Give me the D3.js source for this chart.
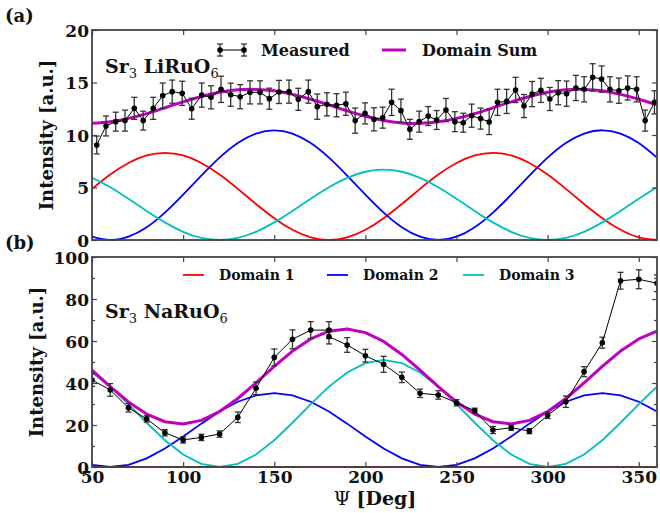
<!DOCTYPE html>
<html>
<head>
<meta charset="utf-8">
<script src="https://cdn.jsdelivr.net/npm/d3@7"></script>
<style>
  body { margin: 0; background: #fff; }
  svg { display: block; }
  text { font-family: "DejaVu Serif", serif; }
</style>
</head>
<body>
<svg id="chart" width="660" height="513"></svg>
<script>
// ---- data ----
// model curves, sampled every 10 deg from 50 to 360
const psiModel = [50, 60, 70, 80, 90, 100, 110, 120, 130, 140, 150, 160, 170, 180, 190, 200,
  210, 220, 230, 240, 250, 260, 270, 280, 290, 300, 310, 320, 330, 340, 350, 360];

// (a) Sr3LiRuO6
const psiA = [52.6, 57.7, 63.0, 68.1, 73.2, 78.1, 83.6, 88.8, 94.0, 99.5, 104.7, 110.2, 115.3, 120.8,
  126.1, 131.3, 136.7, 142.2, 147.3, 152.6, 158.1, 163.2, 168.7, 173.6, 178.9, 184.2, 189.3, 194.4,
  199.8, 204.7, 209.5, 214.4, 219.5, 224.4, 229.5, 234.5, 239.1, 244.2, 249.1, 253.7, 258.3, 263.2,
  267.9, 272.5, 277.5, 282.4, 287.0, 291.5, 296.3, 301.2, 305.8, 310.4, 315.5, 320.0, 324.7, 329.6,
  334.2, 339.1, 343.9, 348.8, 353.5, 358.6];
const measA = [9.05, 10.86, 11.27, 11.37, 12.54, 11.37, 12.54, 13.75, 14.13, 13.97, 12.5, 13.8, 13.59,
  14.35, 13.84, 13.65, 14.06, 14.06, 13.46, 14.1, 14.13, 13.4, 14.13, 12.7, 12.92, 12.83, 12.98, 11.37,
  12.06, 11.49, 11.65, 13.11, 12.32, 10.54, 11.27, 11.81, 11.43, 12.38, 11.27, 11.17, 11.84, 11.56,
  11.24, 13.11, 13.2, 14.29, 12.76, 13.9, 14.25, 13.43, 14.03, 13.94, 14.48, 14.35, 15.49, 15.33,
  14.35, 14.22, 14.48, 14.35, 11.37, 13.11];
const errA = [0.85, 0.95, 0.9, 1.0, 1.05, 0.9, 1.05, 1.2, 1.1, 1.15, 1.0, 1.15, 1.1, 1.25, 1.1, 1.15,
  1.1, 1.1, 1.0, 1.1, 1.1, 1.05, 1.1, 1.2, 1.1, 1.1, 1.1, 1.2, 1.0, 1.1, 1.0, 1.25, 1.1, 0.95, 1.0,
  0.9, 0.9, 1.1, 0.95, 0.9, 1.1, 1.0, 1.2, 1.25, 1.15, 1.2, 1.1, 1.2, 1.15, 1.1, 1.15, 1.2, 1.2, 1.2,
  1.3, 1.25, 1.2, 1.2, 1.15, 1.2, 1.0, 1.1];
const dom1A = [4.87, 6.23, 7.33, 8.05, 8.3, 8.05, 7.33, 6.23, 4.87, 3.43, 2.08, 0.97, 0.25, 0, 0.25,
  0.97, 2.08, 3.43, 4.87, 6.23, 7.33, 8.05, 8.3, 8.05, 7.33, 6.23, 4.87, 3.43, 2.08, 0.97, 0.25, 0];
const dom2A = [0.32, 0, 0.32, 1.22, 2.61, 4.32, 6.13, 7.84, 9.23, 10.13, 10.45, 10.13, 9.23, 7.84, 6.13,
  4.32, 2.61, 1.22, 0.32, 0, 0.32, 1.22, 2.61, 4.32, 6.13, 7.84, 9.23, 10.13, 10.45, 10.13, 9.23, 7.84];
const dom3A = [5.92, 5.03, 3.93, 2.77, 1.68, 0.78, 0.2, 0, 0.2, 0.78, 1.68, 2.77, 3.93, 5.03, 5.92, 6.5,
  6.7, 6.5, 5.92, 5.03, 3.93, 2.77, 1.68, 0.78, 0.2, 0, 0.2, 0.78, 1.68, 2.77, 3.93, 5.03];
const sumA = [11.11, 11.26, 11.58, 12.04, 12.59, 13.15, 13.66, 14.07, 14.3, 14.34, 14.21, 13.87, 13.41,
  12.87, 12.3, 11.79, 11.39, 11.15, 11.11, 11.26, 11.58, 12.04, 12.59, 13.15, 13.66, 14.07, 14.3,
  14.34, 14.21, 13.87, 13.41, 12.87];

// (b) Sr3NaRuO6
const psiB = [50, 60, 70, 80, 90, 100, 110, 120, 130, 140, 150, 160, 170, 180, 180, 190, 200, 210, 220,
  230, 240, 250, 260, 270, 280, 290, 300, 310, 320, 330, 340, 350, 360];
const measB = [41.4, 36.7, 28.2, 22.9, 16.3, 12.9, 14.1, 15.7, 23.7, 37.5, 52.2, 60.8, 65.2, 65.2, 62.1,
  58.1, 53.0, 48.9, 42.7, 35.1, 34.3, 30.6, 26.8, 17.6, 18.7, 17.1, 24.6, 31.1, 45.4, 59.2, 88.7,
  89.4, 87.5];
const errB = [3, 3, 2, 1.5, 1.5, 1.5, 1.5, 1.5, 2.5, 3, 4, 4.5, 4, 4, 3.5, 3.5, 3, 3.8, 2.5, 2, 2, 1.5,
  1.2, 1.7, 1.2, 1.2, 1.5, 2.7, 2.4, 2.6, 4, 4.5, 4];
const dom1B = [0, 0, 0, 0, 0, 0, 0, 0, 0, 0, 0, 0, 0, 0, 0, 0, 0, 0, 0, 0, 0, 0, 0, 0, 0, 0, 0, 0, 0, 0, 0, 0];
const dom2B = [1.06, 0, 1.06, 4.12, 8.8, 14.54, 20.65, 26.4, 31.08, 34.14, 35.2, 34.14, 31.08, 26.4,
  20.65, 14.54, 8.8, 4.12, 1.06, 0, 1.06, 4.12, 8.8, 14.54, 20.65, 26.4, 31.08, 34.14, 35.2, 34.14,
  31.08, 26.4];
const dom3B = [45.03, 38.25, 29.93, 21.07, 12.75, 5.97, 1.54, 0, 1.54, 5.97, 12.75, 21.07, 29.93, 38.25,
  45.03, 49.46, 51, 49.46, 45.03, 38.25, 29.93, 21.07, 12.75, 5.97, 1.54, 0, 1.54, 5.97, 12.75, 21.07,
  29.93, 38.25];
const sumB = [46.09, 38.25, 30.99, 25.19, 21.55, 20.51, 22.19, 26.4, 32.62, 40.11, 47.95, 55.21, 61.01,
  64.65, 65.68, 64.0, 59.8, 53.58, 46.09, 38.25, 30.99, 25.19, 21.55, 20.51, 22.19, 26.4, 32.62,
  40.11, 47.95, 55.21, 61.01, 64.65];

const xTicks = [50, 100, 150, 200, 250, 300, 350];
const yTicksA = [0, 5, 10, 15, 20];
const yTicksB = [0, 20, 40, 60, 80, 100];
const yMinorB = [10, 30, 50, 70, 90];

const RED = '#ff0000', BLUE = '#0000ff', CYAN = '#00bfbf', MAG = '#bf00bf', SPINE = '#444';

// ---- layout ----
const svg = d3.select('#chart');
const left = 92, right = 657;
const x = d3.scaleLinear().domain([50, 360]).range([left, right]);

const panels = [
  { id: 'a', top: 30, bottom: 240, ymax: 20, ticks: yTicksA, minor: [], psi: psiA, meas: measA, err: errA,
    curves: [dom1A, dom2A, dom3A], sum: sumA, smooth: true, xLabels: false,
    formula: ['Sr', '3', ' LiRuO', '6'], fy: 73, tag: '(a)', tagY: 22, ylabX: 53 },
  { id: 'b', top: 257, bottom: 467, ymax: 100, ticks: yTicksB, minor: yMinorB, psi: psiB, meas: measB, err: errB,
    curves: [dom1B, dom2B, dom3B], sum: sumB, smooth: false, xLabels: true,
    formula: ['Sr', '3', ' NaRuO', '6'], fy: 318, tag: '(b)', tagY: 249, ylabX: 43 }
];

panels.forEach(p => {
  const y = d3.scaleLinear().domain([0, p.ymax]).range([p.bottom, p.top]);
  const g = svg.append('g');

  g.append('clipPath').attr('id', 'clip-' + p.id)
    .append('rect').attr('x', left).attr('y', p.top - 1)
    .attr('width', right - left).attr('height', p.bottom - p.top + 2);
  const plot = g.append('g').attr('clip-path', `url(#clip-${p.id})`);

  const line = d3.line()
    .x((d, i) => x(psiModel[i]))
    .y(d => y(d))
    .curve(p.smooth ? d3.curveNatural : d3.curveLinear);

  [RED, BLUE, CYAN].forEach((c, k) => {
    plot.append('path').datum(p.curves[k])
      .attr('fill', 'none').attr('stroke', c).attr('stroke-width', 1.8)
      .attr('d', line);
  });
  plot.append('path').datum(p.sum)
    .attr('fill', 'none').attr('stroke', MAG).attr('stroke-width', 3)
    .attr('stroke-linejoin', 'round').attr('d', line);

  // measured points with error bars
  const pts = p.psi.map((v, i) => ({ psi: v, val: p.meas[i], err: p.err[i] }));
  plot.append('path').datum(pts)
    .attr('fill', 'none').attr('stroke', '#000').attr('stroke-width', 1)
    .attr('d', d3.line().x(d => x(d.psi)).y(d => y(d.val)));
  const eb = plot.append('g').attr('stroke', '#333').attr('stroke-width', 1.3);
  pts.forEach(d => {
    const cx = x(d.psi), y0 = y(d.val - d.err), y1 = y(d.val + d.err);
    eb.append('line').attr('x1', cx).attr('x2', cx).attr('y1', y0).attr('y2', y1);
    eb.append('line').attr('x1', cx - 3).attr('x2', cx + 3).attr('y1', y0).attr('y2', y0);
    eb.append('line').attr('x1', cx - 3).attr('x2', cx + 3).attr('y1', y1).attr('y2', y1);
  });
  plot.selectAll('circle.pt').data(pts).join('circle')
    .attr('class', 'pt')
    .attr('cx', d => x(d.psi)).attr('cy', d => y(d.val)).attr('r', 2.8)
    .attr('fill', '#000');

  // axes: ticks pointing inward on all four sides
  const styleAxis = sel => {
    sel.select('.domain').remove();
    sel.selectAll('.tick line').attr('stroke', SPINE).attr('stroke-width', 1.2);
    sel.selectAll('.tick text').attr('font-family', 'DejaVu Serif').attr('font-weight', 'bold')
      .attr('font-size', 17).attr('fill', '#111');
  };
  g.append('g').attr('transform', `translate(${left},0)`)
    .call(d3.axisLeft(y).tickValues(p.ticks).tickSize(-5).tickPadding(3).tickFormat(d3.format('d')))
    .call(styleAxis)
    .selectAll('.tick text').attr('dy', '0.36em');
  g.append('g').attr('transform', `translate(${right},0)`)
    .call(d3.axisRight(y).tickValues(p.ticks).tickSize(-5).tickFormat(''))
    .call(styleAxis);
  if (p.minor.length) {
    g.append('g').attr('transform', `translate(${left},0)`)
      .call(d3.axisLeft(y).tickValues(p.minor).tickSize(-3).tickFormat('')).call(styleAxis);
    g.append('g').attr('transform', `translate(${right},0)`)
      .call(d3.axisRight(y).tickValues(p.minor).tickSize(-3).tickFormat('')).call(styleAxis);
  }
  g.append('g').attr('transform', `translate(0,${p.bottom})`)
    .call(d3.axisBottom(x).tickValues(xTicks).tickSize(-5).tickPadding(4)
      .tickFormat(p.xLabels ? d3.format('d') : ''))
    .call(styleAxis);
  g.append('g').attr('transform', `translate(0,${p.top})`)
    .call(d3.axisTop(x).tickValues(xTicks).tickSize(-5).tickFormat(''))
    .call(styleAxis);

  g.append('rect').attr('x', left).attr('y', p.top)
    .attr('width', right - left).attr('height', p.bottom - p.top)
    .attr('fill', 'none').attr('stroke', SPINE).attr('stroke-width', 1.8);

  // compound label
  const f = g.append('text').attr('x', 105).attr('y', p.fy)
    .attr('font-size', 19).attr('font-weight', 'bold').attr('fill', '#111');
  f.append('tspan').text(p.formula[0]);
  f.append('tspan').attr('font-size', 13).attr('font-weight', 'normal').attr('dy', 5).text(p.formula[1]);
  f.append('tspan').attr('dy', -5).text(p.formula[2]);
  f.append('tspan').attr('font-size', 13).attr('font-weight', 'normal').attr('dy', 5).text(p.formula[3]);

  g.append('text').attr('x', 5).attr('y', p.tagY)
    .attr('font-size', 18).attr('font-weight', 'bold').attr('fill', '#111').text(p.tag);

  g.append('text')
    .attr('transform', `translate(${p.ylabX},${(p.top + p.bottom) / 2}) rotate(-90)`)
    .attr('text-anchor', 'middle').attr('font-size', 18).attr('font-weight', 'bold')
    .attr('fill', '#111').text('Intensity [a.u.]');
});

// legends
const lgA = svg.append('g').attr('font-weight', 'bold').attr('font-size', 16).attr('fill', '#111');
lgA.append('line').attr('x1', 220).attr('x2', 244).attr('y1', 50).attr('y2', 50)
  .attr('stroke', '#000').attr('stroke-width', 1);
[220, 244].forEach(cx => {
  lgA.append('line').attr('x1', cx).attr('x2', cx).attr('y1', 44).attr('y2', 56).attr('stroke', '#333').attr('stroke-width', 1.3);
  lgA.append('line').attr('x1', cx - 3).attr('x2', cx + 3).attr('y1', 44).attr('y2', 44).attr('stroke', '#333').attr('stroke-width', 1.3);
  lgA.append('line').attr('x1', cx - 3).attr('x2', cx + 3).attr('y1', 56).attr('y2', 56).attr('stroke', '#333').attr('stroke-width', 1.3);
  lgA.append('circle').attr('cx', cx).attr('cy', 50).attr('r', 2.8).attr('fill', '#000');
});
lgA.append('text').attr('x', 261).attr('y', 56).text('Measured');
lgA.append('line').attr('x1', 382).attr('x2', 406).attr('y1', 50).attr('y2', 50)
  .attr('stroke', MAG).attr('stroke-width', 3);
lgA.append('text').attr('x', 422).attr('y', 56).text('Domain Sum');

const lgB = svg.append('g').attr('font-weight', 'bold').attr('font-size', 14).attr('fill', '#111');
[['Domain 1', RED, 183], ['Domain 2', BLUE, 327], ['Domain 3', CYAN, 463]].forEach(([name, c, lx]) => {
  lgB.append('line').attr('x1', lx).attr('x2', lx + 21).attr('y1', 275).attr('y2', 275)
    .attr('stroke', c).attr('stroke-width', 1.8);
  lgB.append('text').attr('x', lx + 36).attr('y', 280).text(name);
});

// x label
const xl = svg.append('text').attr('x', 375).attr('y', 505).attr('text-anchor', 'middle')
  .attr('font-size', 19).attr('fill', '#111');
xl.append('tspan').text('Ψ ');
xl.append('tspan').attr('font-weight', 'bold').text('[Deg]');
</script>
</body>
</html>
